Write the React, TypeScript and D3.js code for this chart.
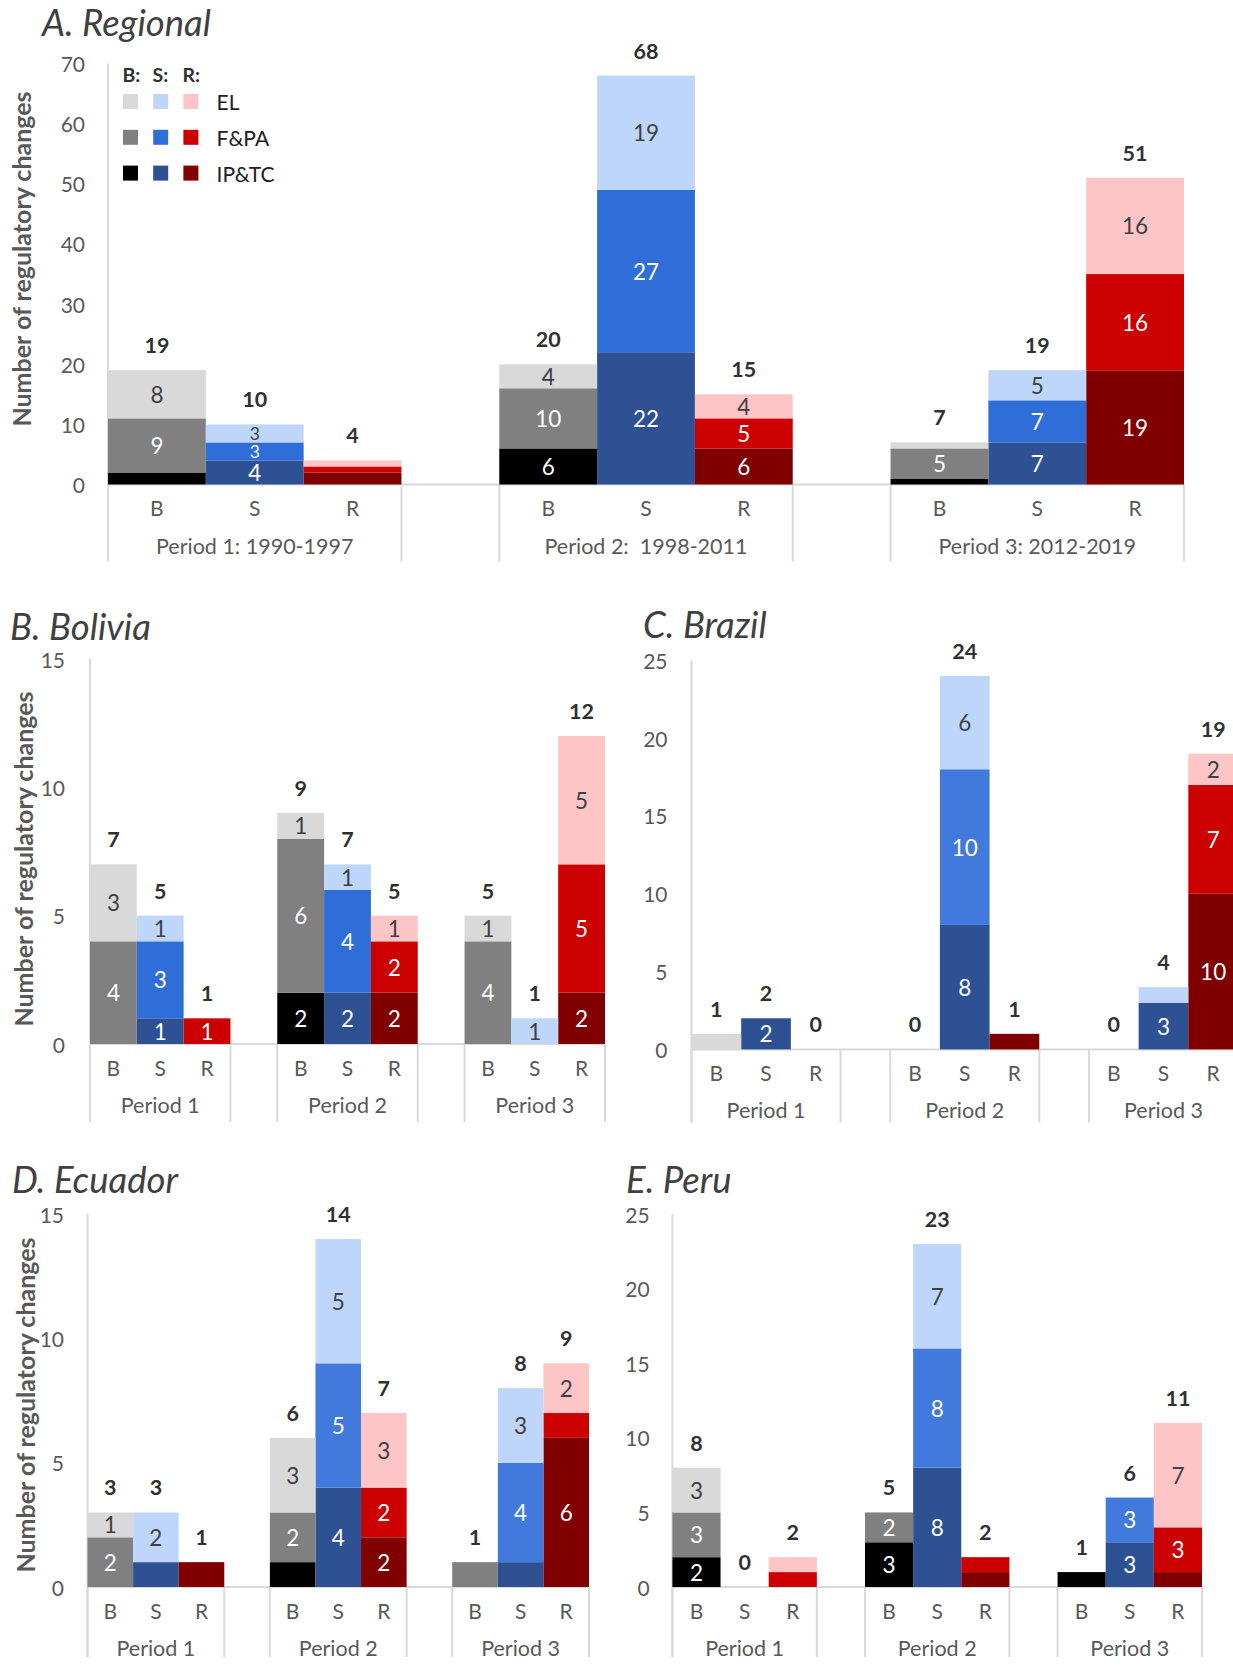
import React from "react";
import * as d3 from "d3";

// ---------- categories / labels ----------
const barGroups = ["B", "S", "R"];
const layerKeys = ["IP&TC", "F&PA", "EL"];
const legendRows = ["EL", "F&PA", "IP&TC"];
const periodLabelsRegional = ["Period 1: 1990-1997", "Period 2:  1998-2011", "Period 3: 2012-2019"];
const periodLabelsCountry = ["Period 1", "Period 2", "Period 3"];
const yAxisTitle = "Number of regulatory changes";

const ticksRegional = [0, 10, 20, 30, 40, 50, 60, 70];
const ticks15 = [0, 5, 10, 15];
const ticks25 = [0, 5, 10, 15, 20, 25];

// ---------- values: [P1 B,S,R, P2 B,S,R, P3 B,S,R] ----------
const regionalIPTC = [2, 4, 2, 6, 22, 6, 1, 7, 19];
const regionalFPA = [9, 3, 1, 10, 27, 5, 5, 7, 16];
const regionalEL = [8, 3, 1, 4, 19, 4, 1, 5, 16];

const boliviaIPTC = [0, 1, 0, 2, 2, 2, 0, 0, 2];
const boliviaFPA = [4, 3, 1, 6, 4, 2, 4, 0, 5];
const boliviaEL = [3, 1, 0, 1, 1, 1, 1, 1, 5];

const brazilIPTC = [0, 2, 0, 0, 8, 1, 0, 3, 10];
const brazilFPA = [0, 0, 0, 0, 10, 0, 0, 0, 7];
const brazilEL = [1, 0, 0, 0, 6, 0, 0, 1, 2];

const ecuadorIPTC = [0, 1, 1, 1, 4, 2, 0, 1, 6];
const ecuadorFPA = [2, 0, 0, 2, 5, 2, 1, 4, 1];
const ecuadorEL = [1, 2, 0, 3, 5, 3, 0, 3, 2];

const peruIPTC = [2, 0, 0, 3, 8, 1, 1, 3, 1];
const peruFPA = [3, 0, 1, 2, 8, 1, 0, 3, 3];
const peruEL = [3, 0, 1, 0, 7, 0, 0, 0, 7];

// segments whose value labels are not printed (besides those too thin)
const ecuadorUnlabelled = ["0-S-IP&TC", "0-R-IP&TC", "1-B-IP&TC", "2-B-F&PA", "2-S-IP&TC", "2-R-F&PA"];

// ---------- styles ----------
const FONT = "Lato, 'Open Sans', 'Liberation Sans', sans-serif";
const AXIS_GREY = "#d9d9d9";
const TEXT_GREY = "#595959";

function palette(midBlue: string) {
  return {
    B: { EL: "#d9d9d9", "F&PA": "#808080", "IP&TC": "#000000" },
    S: { EL: "#bfd6fb", "F&PA": midBlue, "IP&TC": "#2e5194" },
    R: { EL: "#fdc5c5", "F&PA": "#cc0000", "IP&TC": "#800000" },
  } as Record<string, Record<string, string>>;
}

type PanelProps = {
  title: string;
  titleX: number;
  titleY: number;
  x0: number;
  x1: number;
  y0: number;
  yTop: number;
  yMax: number;
  ticks: number[];
  tickRight: number;
  iptc: number[];
  fpa: number[];
  el: number[];
  periods: string[];
  catDepth: number;
  midBlue: string;
  yTitle?: { x: number; y: number };
  unlabelled?: string[];
  legend?: boolean;
};

function Panel(p: PanelProps) {
  const slots: string[] = [];
  periodLabelsCountry.forEach((_, pi) => {
    barGroups.forEach((g) => slots.push(`${pi}-${g}`));
    if (pi < 2) slots.push(`gap${pi}`);
  });
  const x = d3.scaleBand<string>().domain(slots).range([p.x0, p.x1]).paddingInner(0).paddingOuter(0);
  const y = d3.scaleLinear().domain([0, p.yMax]).range([p.y0, p.yTop]);
  const colors = palette(p.midBlue);

  const rows = d3.range(9).map((i) => ({
    key: `${Math.floor(i / 3)}-${barGroups[i % 3]}`,
    group: barGroups[i % 3],
    "IP&TC": p.iptc[i],
    "F&PA": p.fpa[i],
    EL: p.el[i],
    total: p.iptc[i] + p.fpa[i] + p.el[i],
  }));
  const stacked = d3.stack<any>().keys(layerKeys)(rows);
  const hidden = new Set(p.unlabelled || []);
  const bw = x.bandwidth();

  const boundaries = [0, 3, 4, 7, 8].map((i) => x(slots[i]) as number).concat([p.x1]);

  return (
    <g>
      <text x={p.titleX} y={p.titleY} fontFamily={FONT} fontStyle="italic" fontSize={36.5} fill="#404040">
        {p.title}
      </text>
      {p.yTitle && (
        <text
          transform={`translate(${p.yTitle.x},${p.yTitle.y}) rotate(-90)`}
          textAnchor="middle"
          dominantBaseline="central"
          fontFamily={FONT}
          fontWeight="bold"
          fontSize={25}
          fill={TEXT_GREY}
        >
          {yAxisTitle}
        </text>
      )}
      {/* axes */}
      <line x1={p.x0} x2={p.x0} y1={p.yTop} y2={p.y0 + p.catDepth} stroke={AXIS_GREY} strokeWidth={2} />
      <line x1={p.x0} x2={p.x1} y1={p.y0} y2={p.y0} stroke={AXIS_GREY} strokeWidth={2} />
      {boundaries.map((bx, i) => (
        <line key={i} x1={bx} x2={bx} y1={p.y0} y2={p.y0 + p.catDepth} stroke={AXIS_GREY} strokeWidth={2} />
      ))}
      {p.ticks.map((t) => (
        <text
          key={t}
          x={p.tickRight}
          y={y(t)}
          textAnchor="end"
          dominantBaseline="central"
          fontFamily={FONT}
          fontSize={21}
          fill={TEXT_GREY}
        >
          {t}
        </text>
      ))}
      {/* bars */}
      {stacked.map((layer) =>
        layer.map((d: any) => {
          const v = d[1] - d[0];
          if (v <= 0) return null;
          const key = d.data.key;
          const top = y(d[1]);
          const bottom = y(d[0]);
          return (
            <rect
              key={`${layer.key}-${key}`}
              x={x(key) as number}
              y={top}
              width={bw}
              height={bottom - top}
              fill={colors[d.data.group][layer.key]}
            />
          );
        })
      )}
      {/* segment labels */}
      {stacked.map((layer) =>
        layer.map((d: any) => {
          const v = d[1] - d[0];
          if (v <= 0) return null;
          const key = d.data.key;
          const top = y(d[1]);
          const bottom = y(d[0]);
          const h = bottom - top;
          if (h < 17) return null;
          if (hidden.has(`${key}-${layer.key}`)) return null;
          return (
            <text
              key={`l-${layer.key}-${key}`}
              x={(x(key) as number) + bw / 2}
              y={(top + bottom) / 2}
              textAnchor="middle"
              dominantBaseline="central"
              fontFamily={FONT}
              fontSize={Math.min(22.5, h - 0.5)}
              fill={layer.key === "EL" ? "#404040" : "#ffffff"}
            >
              {v}
            </text>
          );
        })
      )}
      {/* totals */}
      {rows.map((r) => (
        <text
          key={`t-${r.key}`}
          x={(x(r.key) as number) + bw / 2}
          y={y(r.total) - 25}
          textAnchor="middle"
          dominantBaseline="central"
          fontFamily={FONT}
          fontWeight="bold"
          fontSize={21.5}
          fill="#303030"
        >
          {r.total}
        </text>
      ))}
      {/* category labels */}
      {rows.map((r) => (
        <text
          key={`c-${r.key}`}
          x={(x(r.key) as number) + bw / 2}
          y={p.y0 + 23}
          textAnchor="middle"
          dominantBaseline="central"
          fontFamily={FONT}
          fontSize={21}
          fill={TEXT_GREY}
        >
          {r.group}
        </text>
      ))}
      {p.periods.map((lab, pi) => {
        const cx = (x(`${pi}-S`) as number) + bw / 2;
        return (
          <text
            key={`p-${pi}`}
            x={cx}
            y={p.y0 + 61}
            textAnchor="middle"
            dominantBaseline="central"
            fontFamily={FONT}
            fontSize={21.5}
            fill={TEXT_GREY}
            style={{ whiteSpace: "pre" }}
          >
            {lab}
          </text>
        );
      })}
      {p.legend && (
        <g fontFamily={FONT}>
          {barGroups.map((g, gi) => (
            <text
              key={`lh-${g}`}
              x={122.5 + gi * 30}
              y={74.5}
              dominantBaseline="central"
              fontWeight="bold"
              fontSize={19.5}
              fill="#303030"
            >
              {g}:
            </text>
          ))}
          {legendRows.map((k, ri) => (
            <g key={`lr-${k}`}>
              {barGroups.map((g, gi) => (
                <rect
                  key={g}
                  x={123 + gi * 30.2}
                  y={94 + ri * 35.8}
                  width={15}
                  height={15}
                  fill={colors[g][k]}
                />
              ))}
              <text x={216.5} y={101.5 + ri * 35.8} dominantBaseline="central" fontSize={21} fill="#202020">
                {k}
              </text>
            </g>
          ))}
        </g>
      )}
    </g>
  );
}

export default function App() {
  return (
    <svg
      width={1233}
      height={1666}
      style={{ position: "absolute", left: 0, top: 0, background: "#ffffff" }}
    >
      <rect x={0} y={0} width={1233} height={1666} fill="#ffffff" />
      <Panel
        title="A. Regional"
        titleX={42}
        titleY={36}
        x0={108}
        x1={1184}
        y0={484.5}
        yTop={63.6}
        yMax={70}
        ticks={ticksRegional}
        tickRight={85}
        iptc={regionalIPTC}
        fpa={regionalFPA}
        el={regionalEL}
        periods={periodLabelsRegional}
        catDepth={77}
        midBlue="#2f6ed8"
        yTitle={{ x: 21, y: 259 }}
        legend
      />
      <Panel
        title="B. Bolivia"
        titleX={10}
        titleY={640}
        x0={90}
        x1={605}
        y0={1044}
        yTop={659}
        yMax={15}
        ticks={ticks15}
        tickRight={65}
        iptc={boliviaIPTC}
        fpa={boliviaFPA}
        el={boliviaEL}
        periods={periodLabelsCountry}
        catDepth={78}
        midBlue="#2f6ed8"
        yTitle={{ x: 23, y: 859 }}
      />
      <Panel
        title="C. Brazil"
        titleX={643}
        titleY={638}
        x0={691.5}
        x1={1238}
        y0={1049.4}
        yTop={660.3}
        yMax={25}
        ticks={ticks25}
        tickRight={667.5}
        iptc={brazilIPTC}
        fpa={brazilFPA}
        el={brazilEL}
        periods={periodLabelsCountry}
        catDepth={73}
        midBlue="#4279dc"
      />
      <Panel
        title="D. Ecuador"
        titleX={12}
        titleY={1193}
        x0={87.5}
        x1={589}
        y0={1587}
        yTop={1214.2}
        yMax={15}
        ticks={ticks15}
        tickRight={64}
        iptc={ecuadorIPTC}
        fpa={ecuadorFPA}
        el={ecuadorEL}
        periods={periodLabelsCountry}
        catDepth={70}
        midBlue="#4279dc"
        yTitle={{ x: 25, y: 1405 }}
        unlabelled={ecuadorUnlabelled}
      />
      <Panel
        title="E. Peru"
        titleX={626}
        titleY={1193}
        x0={672.4}
        x1={1202}
        y0={1587}
        yTop={1214.2}
        yMax={25}
        ticks={ticks25}
        tickRight={649.7}
        iptc={peruIPTC}
        fpa={peruFPA}
        el={peruEL}
        periods={periodLabelsCountry}
        catDepth={70}
        midBlue="#4279dc"
      />
    </svg>
  );
}
